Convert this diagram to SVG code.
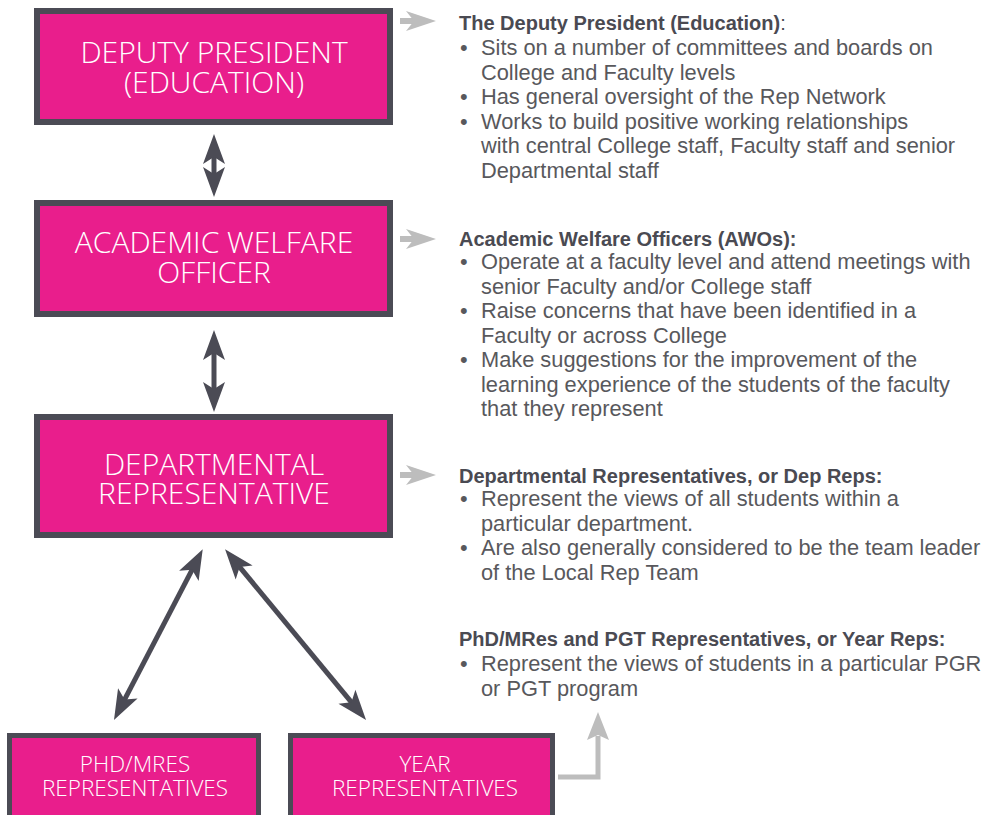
<svg xmlns="http://www.w3.org/2000/svg" width="990" height="815" viewBox="0 0 990 815">
<style>
.box{fill:#E91E8C;stroke:#4B4B55;stroke-width:6}
.sbox{fill:#E91E8C;stroke:#4B4B55;stroke-width:5}
.bt{font-family:"Open Sans","Liberation Sans",sans-serif;font-weight:300;fill:#ffffff;text-anchor:middle;font-size:30px}
.st{font-family:"Open Sans","Liberation Sans",sans-serif;font-weight:300;fill:#ffffff;text-anchor:middle;font-size:22.5px}
.h{font-family:"Liberation Sans",Arial,sans-serif;font-weight:bold;fill:#4A4A52;font-size:20px}
.b{font-family:"Liberation Sans",Arial,sans-serif;fill:#58585C;font-size:21.8px}
.conn{stroke:#4B4B55;stroke-width:5;fill:none;marker-start:url(#dh);marker-end:url(#dh)}
.gray{fill:#BDBDBD}
</style>
<defs>
<marker id="dh" markerUnits="userSpaceOnUse" viewBox="-32 -12 34 24" markerWidth="34" markerHeight="24" refX="-15" refY="0" orient="auto-start-reverse">
<path d="M0,0 L-30,-11 L-23,0 L-30,11 Z" fill="#4B4B55"/>
</marker>
</defs>

<g id="connectors">
<line class="conn" x1="214" y1="149" x2="214" y2="182"/>
<line class="conn" x1="214" y1="345" x2="214" y2="397"/>
<line class="conn" x1="120.9" y1="706.7" x2="195.8" y2="562.6"/>
<line class="conn" x1="234.6" y1="560.9" x2="356.5" y2="708.4"/>
<g class="gray">
<rect x="400" y="18" width="16" height="6"/>
<polygon points="406,11 436,21 406,31 414,21"/>
<rect x="400" y="236" width="16" height="6"/>
<polygon points="406,229 436,239 406,249 414,239"/>
<rect x="400" y="472" width="16" height="6"/>
<polygon points="406,465 436,475 406,485 414,475"/>
</g>
<polyline points="558,777 598,777 598,736" fill="none" stroke="#BDBDBD" stroke-width="5"/>
<polygon class="gray" points="598,712 609,740 598,735 587,740"/>
</g>

<g id="node-deputy">
<rect class="box" x="37" y="11" width="353" height="111"/>
<text class="bt" x="214" y="63">DEPUTY PRESIDENT</text>
<text class="bt" x="214" y="93">(EDUCATION)</text>
</g>
<g id="node-awo">
<rect class="box" x="37" y="203" width="353" height="111"/>
<text class="bt" x="214" y="253">ACADEMIC WELFARE</text>
<text class="bt" x="214" y="283">OFFICER</text>
</g>
<g id="node-dep">
<rect class="box" x="37" y="417" width="353" height="118"/>
<text class="bt" x="214" y="475">DEPARTMENTAL</text>
<text class="bt" x="214" y="504">REPRESENTATIVE</text>
</g>
<g id="node-phd">
<rect class="sbox" x="9.5" y="735.5" width="249" height="90"/>
<text class="st" x="135" y="772">PHD/MRES</text>
<text class="st" x="135" y="796">REPRESENTATIVES</text>
</g>
<g id="node-year">
<rect class="sbox" x="290.5" y="735.5" width="262" height="90"/>
<text class="st" x="425" y="772">YEAR</text>
<text class="st" x="425" y="796">REPRESENTATIVES</text>
</g>

<g id="desc-deputy">
<text class="h" x="459" y="30">The Deputy President (Education)<tspan font-weight="normal">:</tspan></text>
<text class="b" x="460" y="55">•</text><text class="b" x="481" y="55">Sits on a number of committees and boards on</text>
<text class="b" x="481" y="79.5">College and Faculty levels</text>
<text class="b" x="460" y="104">•</text><text class="b" x="481" y="104">Has general oversight of the Rep Network</text>
<text class="b" x="460" y="128.5">•</text><text class="b" x="481" y="128.5">Works to build positive working relationships</text>
<text class="b" x="481" y="153">with central College staff, Faculty staff and senior</text>
<text class="b" x="481" y="177.5">Departmental staff</text>
</g>
<g id="desc-awo">
<text class="h" x="459" y="246">Academic Welfare Officers (AWOs):</text>
<text class="b" x="460" y="269">•</text><text class="b" x="481" y="269">Operate at a faculty level and attend meetings with</text>
<text class="b" x="481" y="293.5">senior Faculty and/or College staff</text>
<text class="b" x="460" y="318">•</text><text class="b" x="481" y="318">Raise concerns that have been identified in a</text>
<text class="b" x="481" y="342.5">Faculty or across College</text>
<text class="b" x="460" y="367">•</text><text class="b" x="481" y="367">Make suggestions for the improvement of the</text>
<text class="b" x="481" y="391.5">learning experience of the students of the faculty</text>
<text class="b" x="481" y="416">that they represent</text>
</g>
<g id="desc-dep">
<text class="h" x="459" y="483">Departmental Representatives, or Dep Reps:</text>
<text class="b" x="460" y="506">•</text><text class="b" x="481" y="506">Represent the views of all students within a</text>
<text class="b" x="481" y="530.5">particular department.</text>
<text class="b" x="460" y="555">•</text><text class="b" x="481" y="555">Are also generally considered to be the team leader</text>
<text class="b" x="481" y="579.5">of the Local Rep Team</text>
</g>
<g id="desc-year">
<text class="h" x="459" y="646">PhD/MRes and PGT Representatives, or Year Reps:</text>
<text class="b" x="460" y="671">•</text><text class="b" x="481" y="671">Represent the views of students in a particular PGR</text>
<text class="b" x="481" y="695.5">or PGT program</text>
</g>
</svg>
